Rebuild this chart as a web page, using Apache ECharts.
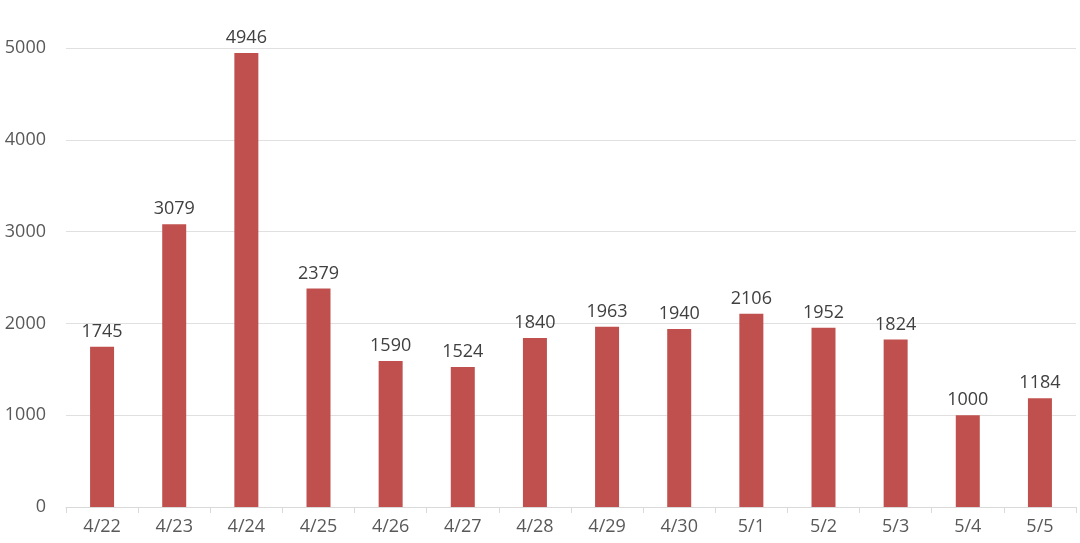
<!DOCTYPE html>
<html><head><meta charset="utf-8">
<script src="https://cdn.jsdelivr.net/npm/echarts@6/dist/echarts.min.js"></script>
<style>html,body{margin:0;padding:0;background:#fff}#c{width:1080px;height:543px}</style>
</head><body><div id="c"></div>
<script>
const categories = ['4/22','4/23','4/24','4/25','4/26','4/27','4/28','4/29','4/30','5/1','5/2','5/3','5/4','5/5'];
const values = [1745,3079,4946,2379,1590,1524,1840,1963,1940,2106,1952,1824,1000,1184];
const chart = echarts.init(document.getElementById('c'));
const font = '"Open Sans", "Noto Sans", sans-serif';
chart.setOption({
  animation:false,
  grid:{left:66,right:4,top:48,bottom:36,containLabel:false},
  xAxis:{type:'category',data:categories,boundaryGap:true,
    axisLine:{lineStyle:{color:'#d9d9d9'}},
    axisTick:{show:true,alignWithLabel:false,length:6,lineStyle:{color:'#d9d9d9'}},
    axisLabel:{color:'#595959',fontSize:18,fontFamily:font,margin:11}},
  yAxis:{type:'value',min:0,max:5000,interval:1000,
    axisLine:{show:false},axisTick:{show:false},
    splitLine:{lineStyle:{color:'#e0e0e0'}},
    axisLabel:{color:'#595959',fontSize:18,fontFamily:font,margin:20,formatter:v=>String(v)}},
  series:[{type:'bar',data:values,barWidth:24,itemStyle:{color:'#C0504D'},
    label:{show:true,position:'top',color:'#404040',fontSize:18,fontFamily:font,distance:6}}]
});
</script></body></html>
